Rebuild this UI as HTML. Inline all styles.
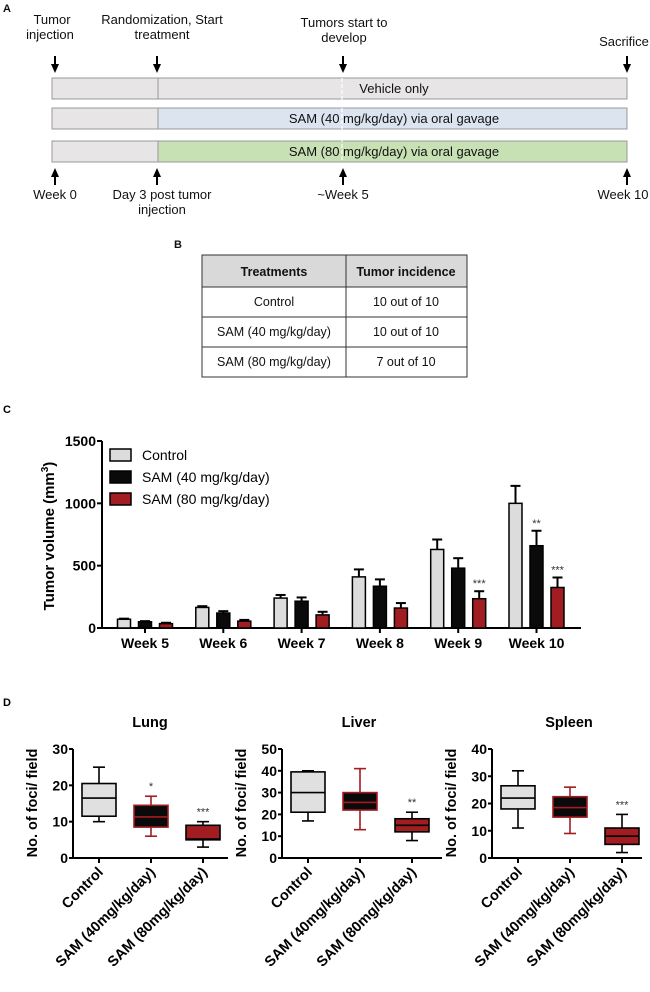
<!DOCTYPE html>
<html><head><meta charset="utf-8">
<style>
body{margin:0;background:#fff;width:650px;height:987px;overflow:hidden;font-family:"Liberation Sans",Arial,sans-serif}
svg text{font-family:"Liberation Sans",Arial,sans-serif}
</style></head>
<body>
<svg id="fig" width="650" height="987" viewBox="0 0 650 987" xmlns="http://www.w3.org/2000/svg">
<!-- Panel A -->
<g font-size="13" fill="#111">
<text x="3" y="12" font-size="11" font-weight="bold">A</text>
<text x="52" y="24" text-anchor="middle">Tumor</text>
<text x="50" y="39" text-anchor="middle">injection</text>
<text x="162" y="24" text-anchor="middle">Randomization, Start</text>
<text x="162" y="39" text-anchor="middle">treatment</text>
<text x="344" y="27" text-anchor="middle">Tumors start to</text>
<text x="344" y="42" text-anchor="middle">develop</text>
<text x="624" y="46" text-anchor="middle">Sacrifice</text>
<g stroke="#000" stroke-width="2">
<line x1="55" y1="56" x2="55" y2="66"/>
<line x1="157" y1="56" x2="157" y2="66"/>
<line x1="343" y1="56" x2="343" y2="66"/>
<line x1="627" y1="56" x2="627" y2="66"/>
<line x1="55" y1="185" x2="55" y2="175"/>
<line x1="157" y1="185" x2="157" y2="175"/>
<line x1="343" y1="185" x2="343" y2="175"/>
<line x1="627" y1="185" x2="627" y2="175"/>
</g>
<g fill="#000" stroke="none">
<polygon points="51,64 59,64 55,73"/>
<polygon points="153,64 161,64 157,73"/>
<polygon points="339,64 347,64 343,73"/>
<polygon points="623,64 631,64 627,73"/>
<polygon points="51,177 59,177 55,168"/>
<polygon points="153,177 161,177 157,168"/>
<polygon points="339,177 347,177 343,168"/>
<polygon points="623,177 631,177 627,168"/>
</g>
<g stroke="#999" stroke-width="1">
<rect x="52" y="78" width="575" height="21" fill="#e7e5e5"/>
<rect x="52" y="108" width="106" height="21" fill="#e7e5e5"/>
<rect x="158" y="108" width="469" height="21" fill="#dce4f0"/>
<rect x="52" y="141" width="106" height="21" fill="#e7e5e5"/>
<rect x="158" y="141" width="469" height="21" fill="#c7e0b4"/>
<line x1="158" y1="78" x2="158" y2="99"/>
</g>
<line x1="342" y1="78" x2="342" y2="162" stroke="#fff" stroke-width="1.2" stroke-dasharray="4,2"/>
<text x="394" y="93" text-anchor="middle">Vehicle only</text>
<text x="394" y="123" text-anchor="middle">SAM (40 mg/kg/day) via oral gavage</text>
<text x="394" y="156" text-anchor="middle">SAM (80 mg/kg/day) via oral gavage</text>
<text x="55" y="199" text-anchor="middle">Week 0</text>
<text x="162" y="199" text-anchor="middle">Day 3 post tumor</text>
<text x="162" y="214" text-anchor="middle">injection</text>
<text x="343" y="199" text-anchor="middle">~Week 5</text>
<text x="623" y="199" text-anchor="middle">Week 10</text>
</g>
<!-- Panel B -->
<g font-size="12.5" fill="#111">
<text x="174" y="248" font-size="11" font-weight="bold">B</text>
<rect x="202" y="255" width="265" height="32" fill="#d9d9d9"/>
<g stroke="#333" stroke-width="1" fill="none">
<rect x="202" y="255" width="265" height="122"/>
<line x1="202" y1="287" x2="467" y2="287"/>
<line x1="202" y1="317" x2="467" y2="317"/>
<line x1="202" y1="347" x2="467" y2="347"/>
<line x1="346" y1="255" x2="346" y2="377"/>
</g>
<text x="274" y="276" text-anchor="middle" font-weight="bold">Treatments</text>
<text x="406" y="276" text-anchor="middle" font-weight="bold">Tumor incidence</text>
<text x="274" y="306" text-anchor="middle">Control</text>
<text x="406" y="306" text-anchor="middle">10 out of 10</text>
<text x="274" y="336" text-anchor="middle">SAM (40 mg/kg/day)</text>
<text x="406" y="336" text-anchor="middle">10 out of 10</text>
<text x="274" y="366" text-anchor="middle">SAM (80 mg/kg/day)</text>
<text x="406" y="366" text-anchor="middle">7 out of 10</text>
</g>
<text x="3" y="413" font-size="11" font-weight="bold">C</text>
<g id="chartC"></g>
<text x="3" y="706" font-size="11" font-weight="bold">D</text>
<g id="chartD"></g>
</svg>
<script>
const weeks = ["Week 5","Week 6","Week 7","Week 8","Week 9","Week 10"];
const controlVals = [70,165,240,410,630,1000];
const sam40Vals = [50,120,215,335,480,660];
const sam80Vals = [35,55,105,160,235,325];
const controlErr = [75,175,265,470,710,1140];
const sam40Err = [55,135,245,390,560,780];
const sam80Err = [42,65,130,200,295,405];
const yTicksC = [0,500,1000,1500];
const sigC = [["","",""],["","",""],["","",""],["","",""],["","","***"],["","**","***"]];

const organs = ["Lung","Liver","Spleen"];
const organMax = [30,50,40];
const organTicks = [[0,10,20,30],[0,10,20,30,40,50],[0,10,20,30,40]];
const groups = ["Control","SAM (40mg/kg/day)","SAM (80mg/kg/day)"];
const lungBox = [[10,11.5,16.5,20.5,25],[6,8.5,11.3,14.5,17],[3,5,5.2,9,10]];
const liverBox = [[17,21,30,39.5,40],[13,22,25.5,30,41],[8,12,15,18,21]];
const spleenBox = [[11,18,22,26.5,32],[9,15,18.5,22.5,26],[2,5,8,11,16]];
const organSig = [["","*","***"],["","","**"],["","","***"]];

const NS="http://www.w3.org/2000/svg";
function mk(parent,tag,attrs,text){const e=document.createElementNS(NS,tag);for(const k in attrs)e.setAttribute(k,attrs[k]);if(text!==undefined)e.textContent=text;parent.appendChild(e);return e;}

// Chart C
(function(){
  const g=document.getElementById('chartC');
  const x0=102,yBase=628,yTop=441,xEnd=581;
  const y=v=>yBase-(v/1500)*(yBase-yTop);
  const gc=i=>145+i*78.3;
  const series=[controlVals,sam40Vals,sam80Vals], errs=[controlErr,sam40Err,sam80Err];
  const fills=["#dcdcdc","#0a0a0a","#a11d21"];
  const ax=mk(g,'path',{d:`M${x0},${yTop} V${yBase} H${xEnd}`,stroke:'#000','stroke-width':2,fill:'none'});
  
  
  yTicksC.forEach(t=>{
    mk(g,'line',{x1:x0-5,x2:x0,y1:y(t),y2:y(t),stroke:'#000','stroke-width':2});
    const tl=mk(g,'text',{x:x0-6,y:y(t)+5,'text-anchor':'end','font-size':14,'font-weight':'bold'},t);
    
    
  });
  const yt=mk(g,'text',{transform:`translate(54,536) rotate(-90)`,'text-anchor':'middle','font-size':15,'font-weight':'bold'});
  
  
  yt.innerHTML='Tumor volume (mm<tspan dy="-6" font-size="10">3</tspan><tspan dy="6">)</tspan>';
  weeks.forEach((w,i)=>{
    mk(g,'line',{x1:gc(i),x2:gc(i),y1:yBase,y2:yBase+5,stroke:'#000','stroke-width':2});
    const l=mk(g,'text',{x:gc(i),y:yBase+20,'text-anchor':'middle','font-size':14,'font-weight':'bold'},w);
    
    
    series.forEach((s,j)=>{
      const cx=gc(i)+(j-1)*21, bw=13;
      mk(g,'line',{x1:cx,x2:cx,y1:y(errs[j][i]),y2:y(s[i]),stroke:'#000','stroke-width':2});
      mk(g,'line',{x1:cx-5,x2:cx+5,y1:y(errs[j][i]),y2:y(errs[j][i]),stroke:'#000','stroke-width':2});
      const b=mk(g,'rect',{x:cx-bw/2,y:y(s[i]),width:bw,height:yBase-y(s[i]),fill:fills[j],stroke:'#000','stroke-width':1.5});
      
      
      if(sigC[i][j]){mk(g,'text',{x:cx,y:y(errs[j][i])-4,'text-anchor':'middle','font-size':11,fill:'#333'},sigC[i][j]);}
    });
  });
  const leg=[["Control",fills[0]],["SAM (40 mg/kg/day)",fills[1]],["SAM (80 mg/kg/day)",fills[2]]];
  leg.forEach((l,i)=>{
    const yy=449+i*22;
    const r=mk(g,'rect',{x:110,y:yy,width:21,height:12,fill:l[1],stroke:'#000','stroke-width':1.5});
    
    
    const t=mk(g,'text',{x:142,y:yy+11,'font-size':14},l[0]);
    
    
  });
})();

// Chart D
(function(){
  const g=document.getElementById('chartD');
  const boxes=[lungBox,liverBox,spleenBox];
  const axX=[73,282,492], axEnd=[228,442,642];
  const yTop=749,yBase=858;
  const red="#a11d21";
  organs.forEach((o,k)=>{
    const y=v=>yBase-(v/organMax[k])*(yBase-yTop);
    const cx=i=>axX[k]+26+i*52;
    const tt=mk(g,'text',{x:axX[k]+77,y:727,'text-anchor':'middle','font-size':14.5,'font-weight':'bold'},o);
    
    
    mk(g,'path',{d:`M${axX[k]},${yTop} V${yBase} H${axEnd[k]}`,stroke:'#000','stroke-width':2,fill:'none'});
    organTicks[k].forEach(t=>{
      mk(g,'line',{x1:axX[k]-4,x2:axX[k],y1:y(t),y2:y(t),stroke:'#000','stroke-width':2});
      const tl=mk(g,'text',{x:axX[k]-5,y:y(t)+5,'text-anchor':'end','font-size':14,'font-weight':'bold'},t);
      
      
    });
    const yt=mk(g,'text',{transform:`translate(${axX[k]-36},803) rotate(-90)`,'text-anchor':'middle','font-size':14.5,'font-weight':'bold'},'No. of foci/ field');
    
    
    groups.forEach((gr,i)=>{
      const c=cx(i), d=boxes[k][i], w=34;
      mk(g,'line',{x1:c,x2:c,y1:yBase,y2:yBase+5,stroke:'#000','stroke-width':2});
      const lab=mk(g,'text',{transform:`translate(${c+5},${yBase+15}) rotate(-45)`,'text-anchor':'end','font-size':14.5,'font-weight':'bold'},gr);
      
      
      const fill=["#e0e0e0","#0a0a0a",red][i];
      const st=i===1?red:"#000";
      const med=i===1?red:"#000";
      mk(g,'line',{x1:c,x2:c,y1:y(d[4]),y2:y(d[0]),stroke:st,'stroke-width':1.6});
      mk(g,'line',{x1:c-6,x2:c+6,y1:y(d[4]),y2:y(d[4]),stroke:st,'stroke-width':1.6});
      mk(g,'line',{x1:c-6,x2:c+6,y1:y(d[0]),y2:y(d[0]),stroke:st,'stroke-width':1.6});
      const b=mk(g,'rect',{x:c-w/2,y:y(d[3]),width:w,height:y(d[1])-y(d[3]),fill:fill,stroke:st,'stroke-width':1.6});
      
      
      mk(g,'line',{x1:c-w/2,x2:c+w/2,y1:y(d[2]),y2:y(d[2]),stroke:med,'stroke-width':1.6});
      if(organSig[k][i]) mk(g,'text',{x:c,y:y(d[4])-6,'text-anchor':'middle','font-size':11,fill:'#333'},organSig[k][i]);
    });
  });
})();
</script>
</body></html>
